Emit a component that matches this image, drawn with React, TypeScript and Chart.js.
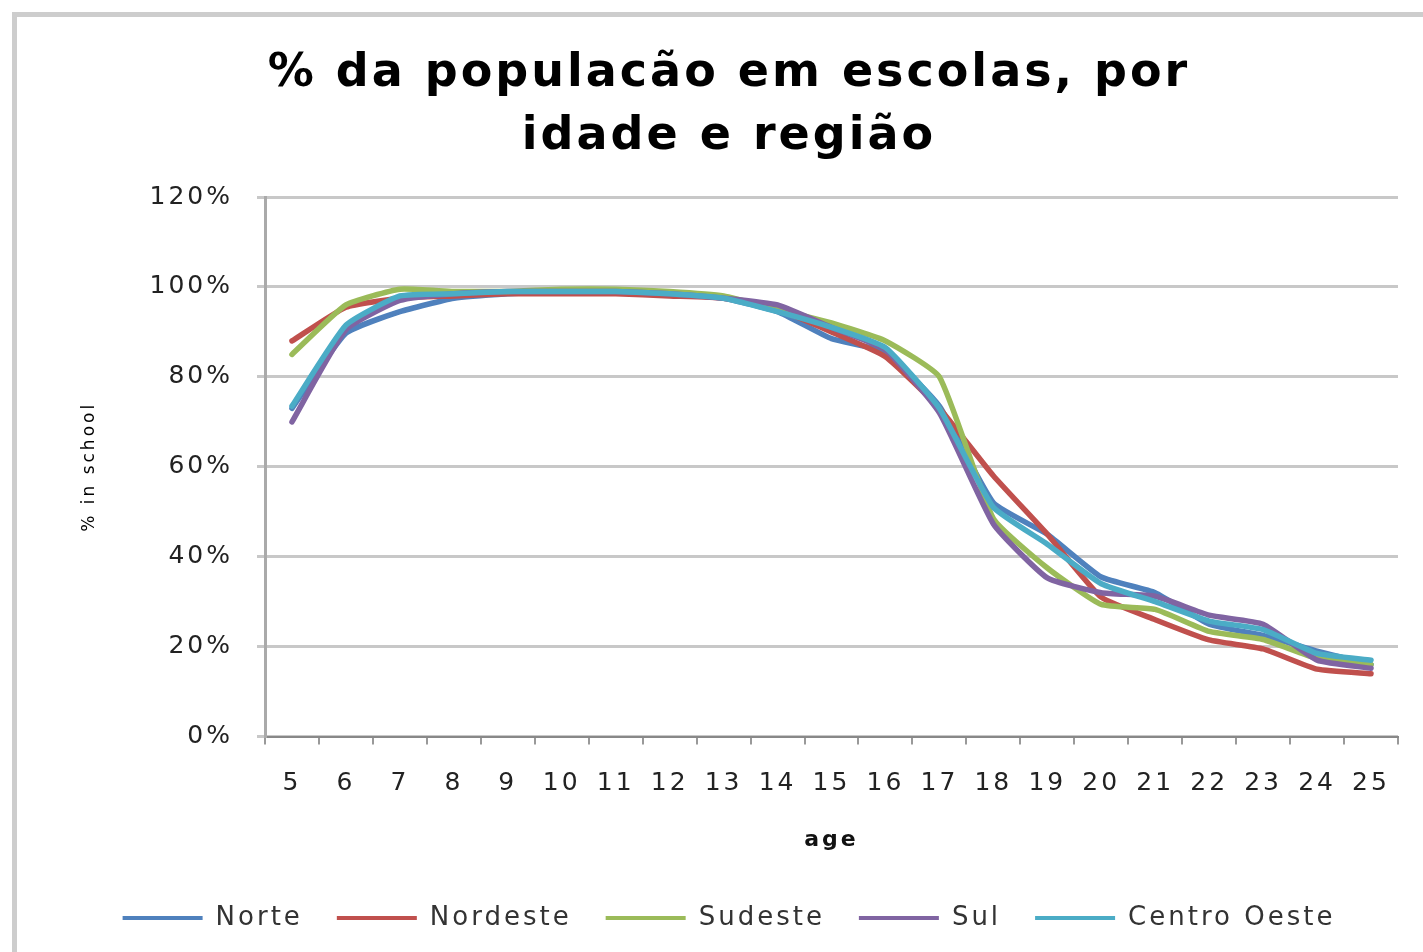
import React, { useEffect, useRef } from "react";
import { Chart, registerables } from "chart.js";
Chart.register(...registerables);

const ages = ["5", "6", "7", "8", "9", "10", "11", "12", "13", "14", "15", "16", "17", "18", "19", "20", "21", "22", "23", "24", "25"];
const norte = [73, 89.7, 94.5, 97.5, 98.5, 99, 99, 98.5, 97.5, 94.5, 88.5, 85.5, 73.5, 52, 45, 35.5, 32, 25, 22.5, 19, 16];
const nordeste = [88, 95.5, 97.5, 98, 98.5, 98.5, 98.5, 98, 97.5, 95, 90, 84.5, 73, 58, 45, 31, 26, 21.5, 19.5, 15, 14];
const sudeste = [85, 96, 99.5, 99, 99, 99.5, 99.5, 99, 98, 95, 92, 88, 80, 48.5, 37.5, 29.4, 28.3, 23.4, 21.6, 17.4, 16];
const sul = [70, 90.5, 97, 98.5, 99, 99, 99, 98.5, 97.5, 96, 91, 86, 72, 47.3, 35.3, 32, 31.2, 27, 25, 17, 15.2];
const centroOeste = [73.5, 91.5, 98, 98.5, 99, 99, 99, 98.5, 97.5, 94.5, 91, 86.5, 73, 51, 42.8, 34, 30, 25.7, 23.8, 18.5, 17];
const seriesNames = ["Norte", "Nordeste", "Sudeste", "Sul", "Centro Oeste"];
const seriesColors = ["#4F81BD", "#C0504D", "#9BBB59", "#8064A2", "#4BACC6"];
const titleLines = ["% da populacão em escolas, por", "idade e região"];

const SPACING = "3px";
const spacingPlugin = {
  id: "letterSpacing",
  beforeInit(chart: any) {
    chart.ctx.letterSpacing = SPACING;
  },
  beforeUpdate(chart: any) {
    chart.ctx.letterSpacing = SPACING;
  },
  beforeDraw(chart: any) {
    chart.ctx.letterSpacing = SPACING;
  },
};

export default function App() {
  const ref = useRef<HTMLCanvasElement>(null);
  useEffect(() => {
    const values = [norte, nordeste, sudeste, sul, centroOeste];
    const chart = new Chart(ref.current!, {
      type: "line",
      plugins: [spacingPlugin],
      data: {
        labels: ages,
        datasets: values.map((d, i) => ({
          label: seriesNames[i],
          data: d,
          borderColor: seriesColors[i],
          backgroundColor: seriesColors[i],
          borderWidth: 5.5,
          pointRadius: 0,
          tension: 0.15,
          borderJoinStyle: "round" as const,
          borderCapStyle: "round" as const,
          order: 5 - i,
        })),
      },
      options: {
        responsive: false,
        animation: false,
        layout: { padding: { top: 43, left: 60, right: 25, bottom: 11 } },
        plugins: {
          tooltip: { enabled: false },
          title: {
            display: true,
            text: titleLines,
            color: "#000",
            font: { family: "DejaVu Sans", size: 46, weight: "bold", lineHeight: 1.37 },
            padding: { top: 0, bottom: 28 },
          },
          legend: {
            position: "bottom",
            labels: {
              usePointStyle: true,
              pointStyle: "line",
              pointStyleWidth: 80,
              color: "#333",
              padding: 34,
              font: { family: "DejaVu Sans", size: 26 },
              sort: (a: any, b: any) => a.datasetIndex - b.datasetIndex,
              generateLabels: (c: any) =>
                Chart.defaults.plugins.legend.labels.generateLabels(c).map((l: any) => ({ ...l, lineWidth: 4 })),
            },
          },
        },
        scales: {
          x: {
            type: "category",
            offset: true,
            grid: { offset: true, drawOnChartArea: false, drawTicks: true, tickLength: 8, color: "#999", lineWidth: 2 },
            border: { color: "#888", width: 2 },
            ticks: { font: { family: "DejaVu Sans", size: 25 }, color: "#222", padding: 24, maxRotation: 0, autoSkip: false },
            title: {
              display: true,
              text: "age",
              color: "#111",
              font: { family: "DejaVu Sans", size: 22, weight: "bold" },
              padding: { top: 4, bottom: 18 },
            },
          },
          y: {
            min: 0,
            max: 120,
            afterFit: (s: any) => {
              s.width = 205;
            },
            grid: { color: "#c8c8c8", lineWidth: 3, drawTicks: true, tickLength: 8 },
            border: { color: "#aaa", width: 3 },
            ticks: {
              stepSize: 20,
              padding: 24,
              color: "#222",
              font: { family: "DejaVu Sans", size: 25 },
              callback: (v: any) => v + "%",
            },
            title: {
              display: true,
              text: "% in school",
              color: "#000",
              font: { family: "DejaVu Sans", size: 17 },
              padding: { top: 19, bottom: 0 },
            },
          },
        },
      },
    });
    return () => chart.destroy();
  }, []);
  return (
    <div style={{ position: "fixed", left: 0, top: 0, width: 1423, height: 952, background: "#fff" }}>
      <canvas ref={ref} width={1423} height={952} style={{ position: "absolute", left: 0, top: 0 }} />
      <div
        style={{
          position: "absolute",
          left: 12,
          top: 12,
          width: 1420,
          height: 945,
          borderLeft: "5px solid #cdcdcd",
          borderTop: "5px solid #cdcdcd",
          pointerEvents: "none",
        }}
      />
    </div>
  );
}
